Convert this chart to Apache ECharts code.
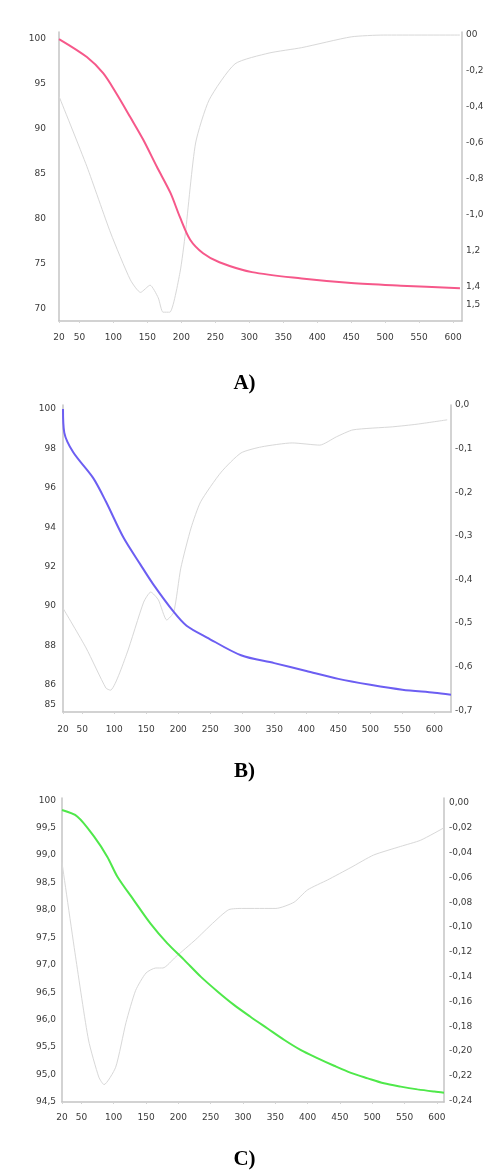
<!DOCTYPE html>
<html>
<head>
<meta charset="utf-8">
<script src="https://cdn.jsdelivr.net/npm/echarts@6/dist/echarts.min.js"></script>
<style>
html,body{margin:0;padding:0;background:#fff;}
#chart{width:489px;height:1174px;}
</style>
</head>
<body>
<div id="chart"></div>
<script>
// ---------- DATA ----------
const xTicks = [20, 50, 100, 150, 200, 250, 300, 350, 400, 450, 500, 550, 600];

// Panel A
const tgA_T   = [20, 61, 85, 104, 125, 144, 164, 184, 198, 213, 232, 256, 304, 377, 450, 523, 610];
const tgA_V   = [100, 98.0, 96.2, 94.0, 91.3, 88.8, 85.8, 82.9, 80.2, 77.7, 76.2, 75.2, 74.1, 73.4, 72.9, 72.6, 72.3];
const dtgA_T  = [20, 61, 96, 125, 140, 154, 166, 173, 183, 198, 206, 221, 241, 279, 329, 377, 450, 498, 610];
const dtgA_V  = [-0.34, -0.73, -1.10, -1.36, -1.43, -1.39, -1.46, -1.54, -1.54, -1.32, -1.10, -0.60, -0.36, -0.16, -0.10, -0.07, -0.01, 0.0, 0.0];
const leftTicksA  = [100, 95, 90, 85, 80, 75, 70];
const leftLabelsA = ['100', '95', '90', '85', '80', '75', '70'];
const rightTicksA  = [0, -0.2, -0.4, -0.6, -0.8, -1.0, -1.2, -1.4, -1.5];
const rightLabelsA = ['00', '-0,2', '-0,4', '-0,6', '-0,8', '-1,0', '1,2', '1,4', '1,5'];

// Panel B
const tgB_T   = [20, 22, 36, 67, 87, 114, 141, 161, 193, 213, 245, 298, 350, 400, 450, 500, 550, 600, 626];
const tgB_V   = [100.0, 98.8, 97.8, 96.5, 95.3, 93.5, 92.1, 91.1, 89.7, 89.0, 88.4, 87.5, 87.1, 86.7, 86.3, 86.0, 85.75, 85.6, 85.5];
const dtgB_T  = [20, 56, 87, 94, 119, 146, 157, 169, 182, 193, 204, 220, 235, 267, 298, 330, 378, 421, 447, 473, 535, 573, 620];
const dtgB_V  = [-0.466, -0.557, -0.649, -0.654, -0.573, -0.452, -0.429, -0.447, -0.493, -0.475, -0.374, -0.282, -0.222, -0.154, -0.110, -0.096, -0.087, -0.092, -0.073, -0.057, -0.050, -0.044, -0.034];
const leftTicksB  = [100, 98, 96, 94, 92, 90, 88, 86, 85];
const leftLabelsB = ['100', '98', '96', '94', '92', '90', '88', '86', '85'];
const rightTicksB  = [0, -0.1, -0.2, -0.3, -0.4, -0.5, -0.6, -0.7];
const rightLabelsB = ['0,0', '-0,1', '-0,2', '-0,3', '-0,4', '-0,5', '-0,6', '-0,7'];

// Panel C
const tgC_T   = [20, 44, 70, 90, 106, 131, 157, 183, 209, 235, 261, 286, 312, 338, 364, 389, 415, 441, 467, 493, 518, 544, 570, 596, 611];
const tgC_V   = [99.82, 99.70, 99.33, 98.97, 98.60, 98.18, 97.75, 97.39, 97.09, 96.78, 96.51, 96.27, 96.05, 95.84, 95.63, 95.45, 95.30, 95.16, 95.03, 94.93, 94.84, 94.78, 94.73, 94.69, 94.67];
const dtgC_T  = [20, 41, 61, 77, 85, 103, 119, 134, 150, 165, 176, 196, 227, 253, 278, 300, 351, 379, 400, 431, 467, 502, 544, 575, 611];
const dtgC_V  = [-0.048, -0.124, -0.191, -0.221, -0.227, -0.213, -0.177, -0.151, -0.137, -0.133, -0.133, -0.124, -0.110, -0.097, -0.086, -0.085, -0.085, -0.080, -0.070, -0.062, -0.052, -0.042, -0.035, -0.030, -0.020];
const leftTicksC  = [100, 99.5, 99.0, 98.5, 98.0, 97.5, 97.0, 96.5, 96.0, 95.5, 95.0, 94.5];
const leftLabelsC = ['100', '99,5', '99,0', '98,5', '98,0', '97,5', '97,0', '96,5', '96,0', '95,5', '95,0', '94,5'];
const rightTicksC  = [0, -0.02, -0.04, -0.06, -0.08, -0.10, -0.12, -0.14, -0.16, -0.18, -0.20, -0.22, -0.24];
const rightLabelsC = ['0,00', '-0,02', '-0,04', '-0,06', '-0,08', '-0,10', '-0,12', '-0,14', '-0,16', '-0,18', '-0,20', '-0,22', '-0,24'];

const captions = ['A)', 'B)', 'C)'];

// ---------- CHART ----------
const zip = (a, b) => a.map((v, i) => [v, b[i]]);
const lbl = (ticks, labels) => (v) => {
  for (let i = 0; i < ticks.length; i++) if (Math.abs(ticks[i] - v) < 1e-6) return labels[i];
  return '';
};
const font = { fontFamily: 'DejaVu Sans', fontSize: 9, color: '#3a3a3a' };
const axisLineStyle = { show: true, onZero: false, lineStyle: { color: '#c4c4c4', width: 1.5 } };

const panels = [
  { grid: { left: 59, top: 32, width: 403, height: 289 }, xmax: 613, xmargin: 12,
    lmin: 68.67, lmax: 100.78, rmin: -1.589, rmax: 0.017, lmargin: 13, rmargin: 4,
    lt: leftTicksA, ll: leftLabelsA, rt: rightTicksA, rl: rightLabelsA,
    tg: zip(tgA_T, tgA_V), dtg: zip(dtgA_T, dtgA_V), color: '#f6588a', capTop: 368 },
  { grid: { left: 63, top: 405, width: 388, height: 307 }, xmax: 626, xmargin: 13,
    lmin: 84.62, lmax: 100.2, rmin: -0.704, rmax: 0, lmargin: 7, rmargin: 4,
    lt: leftTicksB, ll: leftLabelsB, rt: rightTicksB, rl: rightLabelsB,
    tg: zip(tgB_T, tgB_V), dtg: zip(dtgB_T, dtgB_V), color: '#6c5ef2', capTop: 756 },
  { grid: { left: 62, top: 798, width: 382, height: 304 }, xmax: 611, xmargin: 11,
    lmin: 94.50, lmax: 100.04, rmin: -0.241, rmax: 0.004, lmargin: 6, rmargin: 5,
    lt: leftTicksC, ll: leftLabelsC, rt: rightTicksC, rl: rightLabelsC,
    tg: zip(tgC_T, tgC_V), dtg: zip(dtgC_T, dtgC_V), color: '#4fe84a', capTop: 1144 }
];

const option = { animation: false, backgroundColor: '#fff', grid: [], xAxis: [], yAxis: [], series: [], title: [] };

panels.forEach((p, i) => {
  option.grid.push(p.grid);
  option.xAxis.push({
    type: 'value', gridIndex: i, min: 20, max: p.xmax,
    axisLine: axisLineStyle,
    axisTick: { show: true, customValues: xTicks, length: 2, lineStyle: { color: '#d4d4d4' } },
    axisLabel: Object.assign({ customValues: xTicks, margin: p.xmargin }, font),
    splitLine: { show: false }
  });
  option.yAxis.push({
    type: 'value', gridIndex: i, position: 'left', min: p.lmin, max: p.lmax,
    axisLine: axisLineStyle, axisTick: { show: false },
    axisLabel: Object.assign({ customValues: p.lt, formatter: lbl(p.lt, p.ll), margin: p.lmargin }, font),
    splitLine: { show: false }
  });
  option.yAxis.push({
    type: 'value', gridIndex: i, position: 'right', min: p.rmin, max: p.rmax,
    axisLine: axisLineStyle, axisTick: { show: false },
    axisLabel: Object.assign({ customValues: p.rt, formatter: lbl(p.rt, p.rl), margin: p.rmargin }, font),
    splitLine: { show: false }
  });
  option.series.push({
    type: 'line', xAxisIndex: i, yAxisIndex: 2 * i + 1, data: p.dtg,
    showSymbol: false, smooth: 0.2, lineStyle: { color: '#d8d8d8', width: 1 }, z: 2
  });
  option.series.push({
    type: 'line', xAxisIndex: i, yAxisIndex: 2 * i, data: p.tg,
    showSymbol: false, smooth: 0.3, lineStyle: { color: p.color, width: 2 }, z: 3
  });
  option.title.push({
    text: captions[i], left: 'center', top: p.capTop,
    textStyle: { fontFamily: 'Liberation Serif', fontSize: 21, fontWeight: 'bold', color: '#000' }
  });
});

const chart = echarts.init(document.getElementById('chart'), null, { renderer: 'canvas' });
chart.setOption(option);
</script>
</body>
</html>
